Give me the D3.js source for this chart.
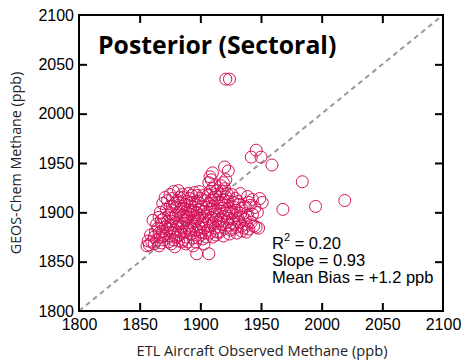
<!DOCTYPE html>
<html><head><meta charset="utf-8">
<script src="https://cdn.jsdelivr.net/npm/d3@7"></script>
<style>body{margin:0;background:#fff}svg{display:block}</style>
</head><body>
<script>
const xTicks = [1800,1850,1900,1950,2000,2050,2100];
const yTicks = [1800,1850,1900,1950,2000,2050,2100];
const titleText = "Posterior (Sectoral)";
const xLabel = "ETL Aircraft Observed Methane (ppb)";
const yLabel = "GEOS-Chem Methane (ppb)";
const stats = ["= 0.20","Slope = 0.93","Mean Bias = +1.2 ppb"];

// observed (x) and model (y) methane, ppb
const obs = [
1856,1858,1860,1862,1864,1859,1861,1863,1865,1864,1866,1862,1857,
1866,1868,1870,1867,1872,1869,1871,1868,1873,1870,1874,1867,1872,1875,1869,1873,1871,1875,1866,1874,1870,1873,1868,1875,1875,
1876,1878,1880,1882,1877,1879,1881,1883,1876,1878,1880,1882,1884,1877,1879,1881,1883,1885,1878,1882,1884,1885,1876,1880,1884,1876,1880,1884,1877,1883,1885,1879,
1886,1888,1890,1892,1894,1887,1889,1891,1893,1886,1888,1890,1892,1894,1886,1888,1890,1892,1894,1887,1889,1891,1893,1895,1886,1890,1893,1895,1888,1894,1891,1895,1886,1889,1893,
1896,1898,1900,1902,1904,1897,1899,1901,1903,1896,1898,1900,1902,1904,1897,1899,1901,1903,1905,1896,1898,1900,1902,1904,1897,1899,1903,1905,1900,1905,1897,1907,
1906,1908,1910,1912,1914,1907,1909,1911,1913,1906,1908,1910,1912,1914,1907,1909,1911,1913,1915,1908,1910,1912,1907,1909,1908,1910,1914,1912,1906,1915,1913,1910,1908,
1916,1918,1920,1922,1924,1917,1919,1921,1923,1916,1918,1920,1922,1924,1917,1919,1921,1923,1916,1918,1920,1922,1917,1919,1921,1920,1923,1916,1925,1919,1924,
1926,1928,1930,1932,1934,1927,1929,1931,1933,1926,1928,1930,1932,1934,1927,1929,1931,1933,1930,1934,1926,1935,
1936,1938,1940,1942,1944,1946,1937,1939,1941,1943,1945,1937,1940,1943,1947,1949,1951,1948,1939,1938,
1946,1942,1950,1959,1968,1984,1995,2019,1921,1924
];
const model = [
1866,1867,1870,1868,1872,1877,1892,1880,1884,1888,1895,1875,1871,
1866,1869,1872,1875,1878,1881,1885,1888,1891,1894,1897,1900,1903,1906,1909,1912,1915,1918,1879,1870,1876,1883,1892,1887,1876,
1868,1872,1875,1871,1879,1882,1886,1889,1891,1894,1897,1900,1903,1906,1909,1912,1915,1918,1921,1922,1880,1885,1884,1890,1895,1899,1905,1909,1914,1877,1870,1865,
1872,1875,1870,1878,1874,1880,1884,1887,1883,1889,1892,1895,1898,1891,1897,1900,1903,1906,1902,1908,1911,1914,1917,1920,1915,1919,1910,1895,1868,1866,1882,1886,1904,1896,1900,
1870,1874,1877,1873,1879,1882,1885,1888,1884,1891,1894,1897,1892,1896,1900,1903,1906,1901,1905,1908,1911,1914,1917,1912,1917,1921,1868,1888,1880,1875,1858,1858,
1882,1886,1889,1884,1880,1892,1895,1898,1893,1900,1903,1906,1902,1897,1909,1912,1915,1918,1910,1921,1924,1927,1930,1933,1936,1940,1922,1913,1917,1890,1877,1875,1879,
1885,1888,1884,1890,1887,1893,1896,1899,1894,1901,1904,1907,1903,1900,1910,1913,1916,1911,1918,1921,1924,1919,1927,1930,1933,1946,1942,1880,1882,1876,1878,
1884,1888,1885,1890,1886,1893,1897,1894,1899,1901,1905,1902,1908,1904,1910,1914,1911,1919,1879,1881,1918,1895,
1884,1888,1883,1890,1886,1885,1893,1897,1907,1898,1905,1906,1910,1913,1900,1914,1910,1884,1916,1880,
1963,1956,1956,1948,1903,1931,1906,1912,2035,2035
];

const W = 465, H = 364;
const m = {left:79, right:443, top:15, bottom:311};
const svg = d3.select("body").append("svg").attr("width",W).attr("height",H);
const x = d3.scaleLinear().domain([1800,2100]).range([m.left,m.right]);
const y = d3.scaleLinear().domain([1800,2100]).range([m.bottom,m.top]);

// 1:1 line
svg.append("line")
  .attr("x1",x(1800)).attr("y1",y(1800)).attr("x2",x(2100)).attr("y2",y(2100))
  .attr("stroke","#9a9a9a").attr("stroke-width",2).attr("stroke-dasharray","5,4");

// points
svg.append("g").selectAll("circle").data(obs.map((d,i)=>[d,model[i]])).join("circle")
  .attr("cx",d=>x(d[0])).attr("cy",d=>y(d[1])).attr("r",6)
  .attr("fill","none").attr("stroke","#d4145a").attr("stroke-width",1);

// axes (ticks inward)
const tl = 8;
const axB = d3.axisBottom(x).tickValues(xTicks).tickSizeInner(-tl).tickSizeOuter(0).tickFormat(d3.format("d"));
const axT = d3.axisTop(x).tickValues(xTicks).tickSizeInner(-tl).tickSizeOuter(0).tickFormat("");
const axL = d3.axisLeft(y).tickValues(yTicks).tickSizeInner(-tl).tickSizeOuter(0).tickFormat(d3.format("d"));
const axR = d3.axisRight(y).tickValues(yTicks).tickSizeInner(-tl).tickSizeOuter(0).tickFormat("");
function style(g){
  g.select(".domain").remove();
  g.selectAll(".tick line").attr("stroke","#000").attr("stroke-width",2);
  g.selectAll(".tick text").attr("font-family","'Liberation Sans', Arial, sans-serif").attr("font-size",16).attr("fill","#000");
}
svg.append("g").attr("transform",`translate(0,${m.bottom})`).call(axB).call(style)
  .selectAll(".tick text").attr("dy",null).attr("y",19);
svg.append("g").attr("transform",`translate(0,${m.top})`).call(axT).call(style);
svg.append("g").attr("transform",`translate(${m.left},0)`).call(axL).call(style)
  .selectAll(".tick text").attr("x",-5);
svg.append("g").attr("transform",`translate(${m.right},0)`).call(axR).call(style);
svg.selectAll(".tick").filter(d=>d===1800||d===2100).select("line").remove();

svg.append("rect").attr("x",m.left).attr("y",m.top).attr("width",m.right-m.left).attr("height",m.bottom-m.top)
  .attr("fill","none").attr("stroke","#000").attr("stroke-width",2);

// title
svg.append("text").attr("x",98).attr("y",54).text(titleText)
  .attr("font-family","'Open Sans', 'Noto Sans', sans-serif").attr("font-weight","bold").attr("font-size",24.8).attr("fill","#000");

// axis labels
svg.append("text").attr("x",(m.left+m.right)/2+1).attr("y",356).attr("text-anchor","middle").text(xLabel)
  .attr("font-family","'Open Sans', 'Noto Sans', sans-serif").attr("font-size",14.6).attr("fill","#222");
svg.append("text").attr("transform",`translate(21,${(m.top+m.bottom)/2}) rotate(-90)`).attr("text-anchor","middle").text(yLabel)
  .attr("font-family","'Open Sans', 'Noto Sans', sans-serif").attr("font-size",14.3).attr("fill","#222");

// stats
const sf = "'Liberation Sans', Arial, sans-serif";
const st = svg.append("text").attr("font-family",sf).attr("font-size",16.5).attr("fill","#000");
const t0 = st.append("tspan").attr("x",272).attr("y",249);
t0.append("tspan").text("R");
t0.append("tspan").attr("dy",-8).attr("font-size",11).text("2");
t0.append("tspan").attr("dy",8).text(" " + stats[0]);
st.append("tspan").attr("x",272).attr("y",266).text(stats[1]);
st.append("tspan").attr("x",272).attr("y",283).text(stats[2]);
</script>
</body></html>
